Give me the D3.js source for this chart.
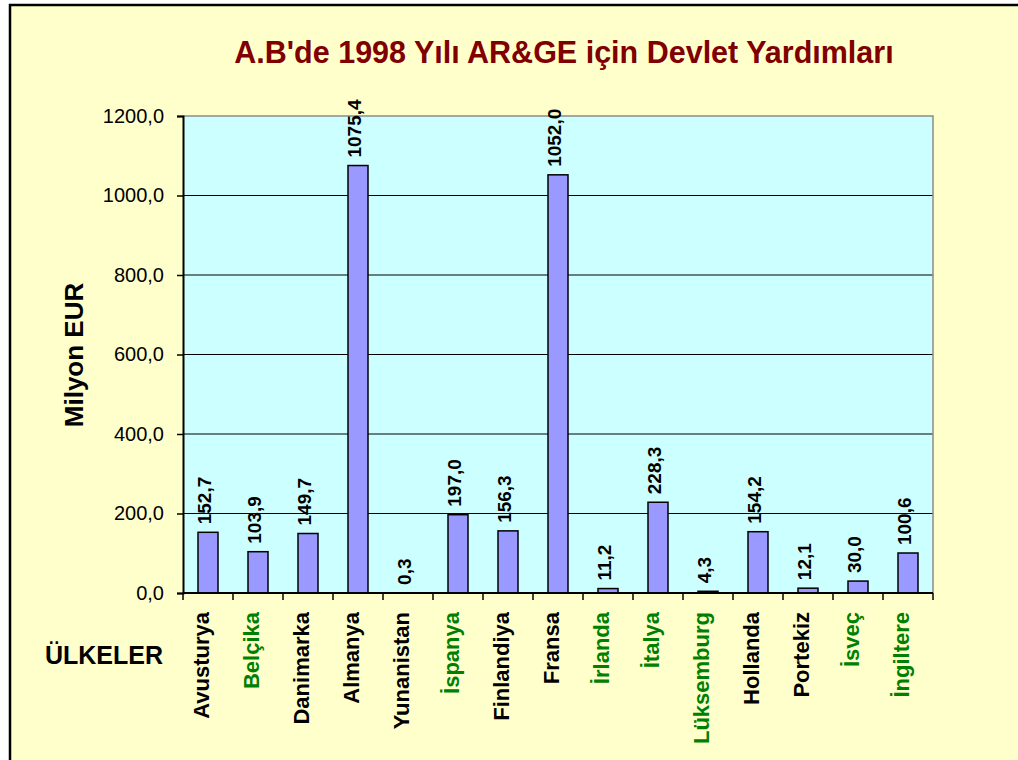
<!DOCTYPE html>
<html>
<head>
<meta charset="utf-8">
<script src="https://cdn.jsdelivr.net/npm/d3@7"></script>
<style>
  html, body { margin: 0; padding: 0; background: #fff; }
  svg { display: block; font-family: "Liberation Sans", Arial, sans-serif; }
</style>
</head>
<body>
<svg id="chart" width="1018" height="760"></svg>
<script>
// data
var countries = ['Avusturya', 'Belçika', 'Danimarka', 'Almanya', 'Yunanistan', 'İspanya',
  'Finlandiya', 'Fransa', 'İrlanda', 'İtalya', 'Lüksemburg', 'Hollanda', 'Portekiz', 'İsveç', 'İngiltere'];
var values = [152.7, 103.9, 149.7, 1075.4, 0.3, 197.0, 156.3, 1052.0, 11.2, 228.3, 4.3, 154.2, 12.1, 30.0, 100.6];
var greenCountries = ['Belçika', 'İspanya', 'İrlanda', 'İtalya', 'Lüksemburg', 'İsveç', 'İngiltere'];
var yTicks = [0, 200, 400, 600, 800, 1000, 1200];

var svg = d3.select('#chart');
var plot = { left: 183, top: 116, right: 933, bottom: 593 };

var fmt = function (v) { return d3.format('.1f')(v).replace('.', ','); };

// outer frame
svg.append('rect')
  .attr('x', 10).attr('y', 5)
  .attr('width', 1100).attr('height', 1000)
  .attr('fill', '#ffffcc')
  .attr('stroke', '#000').attr('stroke-width', 2.5);

// title
svg.append('text')
  .attr('x', 564).attr('y', 63)
  .attr('text-anchor', 'middle')
  .attr('fill', '#800000')
  .style('font-size', '30.5px')
  .style('font-weight', 'bold')
  .text("A.B'de 1998 Yılı AR&GE için Devlet Yardımları");

var xb = d3.scaleBand().domain(countries).range([plot.left, plot.right]);
var y = d3.scaleLinear().domain([0, 1200]).range([plot.bottom, plot.top]);

// plot area
svg.append('rect')
  .attr('x', plot.left).attr('y', plot.top)
  .attr('width', plot.right - plot.left).attr('height', plot.bottom - plot.top)
  .attr('fill', '#ccffff');

// grid lines
svg.append('g').selectAll('line')
  .data(yTicks.filter(function (t) { return t > 0 && t < 1200; }))
  .enter().append('line')
  .attr('x1', plot.left).attr('x2', plot.right)
  .attr('y1', function (d) { return y(d); }).attr('y2', function (d) { return y(d); })
  .attr('stroke', '#000').attr('stroke-width', 1.2);

// gray border top/right
svg.append('path')
  .attr('d', 'M' + plot.left + ',' + plot.top + 'H' + plot.right + 'V' + plot.bottom)
  .attr('fill', 'none').attr('stroke', '#8c8c8c').attr('stroke-width', 1.5);

// bars
svg.append('g').selectAll('rect')
  .data(values)
  .enter().append('rect')
  .attr('x', function (d, i) { return xb(countries[i]) + xb.bandwidth() / 2 - 10; })
  .attr('y', function (d) { return y(d); })
  .attr('width', 20)
  .attr('height', function (d) { return y(0) - y(d); })
  .attr('fill', '#9999ff')
  .attr('stroke', '#000').attr('stroke-width', 1.5);

// value labels
svg.append('g').selectAll('text')
  .data(values)
  .enter().append('text')
  .attr('transform', function (d, i) {
    return 'translate(' + (xb(countries[i]) + xb.bandwidth() / 2 + 3) + ',' + (y(d) - 8) + ') rotate(-90)';
  })
  .style('font-size', '19px')
  .style('font-weight', 'bold')
  .attr('fill', '#000')
  .text(function (d) { return fmt(d); });

// y axis
var yAxis = d3.axisLeft(y).tickValues(yTicks).tickSize(6).tickFormat(fmt);
var gy = svg.append('g').attr('transform', 'translate(' + plot.left + ',0)').call(yAxis);
gy.select('.domain').attr('stroke', '#000').attr('stroke-width', 2);
gy.selectAll('.tick line').attr('stroke', '#000').attr('stroke-width', 1.5);
gy.selectAll('.tick text')
  .attr('x', -19)
  .style('font-size', '20px')
  .style('font-family', '"Liberation Sans", Arial, sans-serif')
  .attr('fill', '#000');

// x axis: ticks on band boundaries
var bounds = countries.map(function (c) { return xb(c); }).concat([plot.right]);
svg.append('line')
  .attr('x1', plot.left).attr('x2', plot.right)
  .attr('y1', plot.bottom).attr('y2', plot.bottom)
  .attr('stroke', '#000').attr('stroke-width', 2);
svg.append('g').selectAll('line')
  .data(bounds)
  .enter().append('line')
  .attr('x1', function (d) { return d; }).attr('x2', function (d) { return d; })
  .attr('y1', plot.bottom).attr('y2', plot.bottom + 7)
  .attr('stroke', '#000').attr('stroke-width', 1.5);

// category labels
svg.append('g').selectAll('text')
  .data(countries)
  .enter().append('text')
  .attr('transform', function (d) {
    return 'translate(' + (xb(d) + xb.bandwidth() / 2 + 1) + ',612) rotate(-90)';
  })
  .attr('text-anchor', 'end')
  .style('font-size', '22px')
  .style('font-weight', 'bold')
  .attr('fill', function (d) { return greenCountries.indexOf(d) >= 0 ? '#008000' : '#000'; })
  .text(function (d) { return d; });

// axis titles
svg.append('text')
  .attr('transform', 'translate(83,355) rotate(-90)')
  .attr('text-anchor', 'middle')
  .style('font-size', '26px')
  .style('font-weight', 'bold')
  .text('Milyon EUR');

svg.append('text')
  .attr('x', 104).attr('y', 664)
  .attr('text-anchor', 'middle')
  .style('font-size', '25px')
  .style('font-weight', 'bold')
  .text('ÜLKELER');
</script>
</body>
</html>
